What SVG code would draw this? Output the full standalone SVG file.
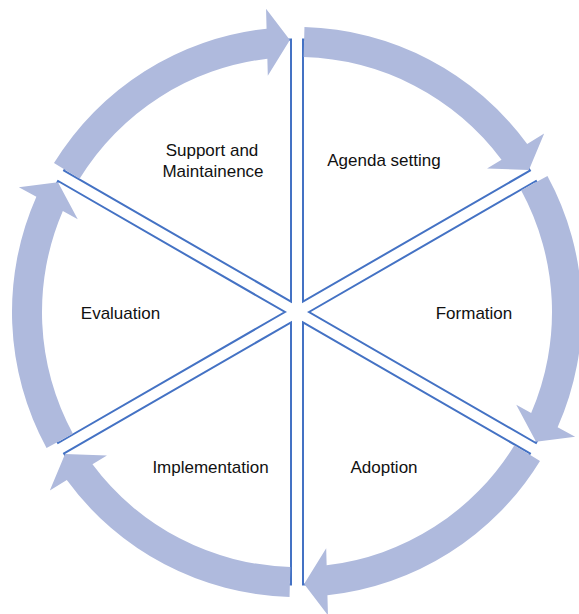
<svg xmlns="http://www.w3.org/2000/svg" width="579" height="614" viewBox="0 0 579 614">
<style>
.seg{fill:#ffffff;stroke:#4472c4;stroke-width:2;stroke-linejoin:miter}
.arr{fill:#afbadd;stroke:none}
.lbl{font-family:"Liberation Sans",Arial,sans-serif;font-size:17px;fill:#111111;text-anchor:middle}
</style>
<rect width="579" height="614" fill="#ffffff"/>
<g id="node-agenda">
<path class="seg" d="M303 301.61 L303 39.61 A262 262 0 0 1 529.90 170.61 Z"/>
<text class="lbl" x="384" y="166">Agenda setting</text>
</g>
<g id="node-formation">
<path class="seg" d="M309 312 L535.90 181 A262 262 0 0 1 535.90 443 Z"/>
<text class="lbl" x="474" y="319">Formation</text>
</g>
<g id="node-adoption">
<path class="seg" d="M303 322.39 L529.90 453.39 A262 262 0 0 1 303 584.39 Z"/>
<text class="lbl" x="384" y="472.5">Adoption</text>
</g>
<g id="node-implementation">
<path class="seg" d="M291 322.39 L291 584.39 A262 262 0 0 1 64.10 453.39 Z"/>
<text class="lbl" x="210.5" y="472.5">Implementation</text>
</g>
<g id="node-evaluation">
<path class="seg" d="M285 312 L58.10 443 A262 262 0 0 1 58.10 181 Z"/>
<text class="lbl" x="120.5" y="319">Evaluation</text>
</g>
<g id="node-support">
<path class="seg" d="M291 301.61 L64.10 170.61 A262 262 0 0 1 291 39.61 Z"/>
<text class="lbl" x="212" y="156">Support and</text>
<text class="lbl" x="213" y="177">Maintainence</text>
</g>
<g id="connectors">
<path class="arr" d="M304.46 27.10 A285 285 0 0 1 527.19 143.96 L544.18 133.55 L528.92 169.88 L487.06 168.56 L501.52 159.70 A255 255 0 0 0 303.68 57.09 Z"/>
<path class="arr" d="M547.46 176.01 A285 285 0 0 1 557.62 427.34 L575.14 436.85 L536.04 441.79 L516.25 404.87 L531.16 412.97 A255 255 0 0 0 521.10 190.32 Z"/>
<path class="arr" d="M540.00 460.91 A285 285 0 0 1 327.43 595.37 L327.95 615.30 L304.12 583.91 L326.20 548.32 L326.64 565.27 A255 255 0 0 0 514.42 445.24 Z"/>
<path class="arr" d="M289.54 596.90 A285 285 0 0 1 66.81 480.04 L49.82 490.45 L65.08 454.12 L106.94 455.44 L92.48 464.30 A255 255 0 0 0 290.32 566.91 Z"/>
<path class="arr" d="M46.54 447.99 A285 285 0 0 1 36.38 196.66 L18.86 187.15 L57.96 182.21 L77.75 219.13 L62.84 211.03 A255 255 0 0 0 72.90 433.68 Z"/>
<path class="arr" d="M54.00 163.09 A285 285 0 0 1 266.57 28.63 L266.05 8.70 L289.88 40.09 L267.80 75.68 L267.36 58.73 A255 255 0 0 0 79.58 178.76 Z"/>
</g>
</svg>
